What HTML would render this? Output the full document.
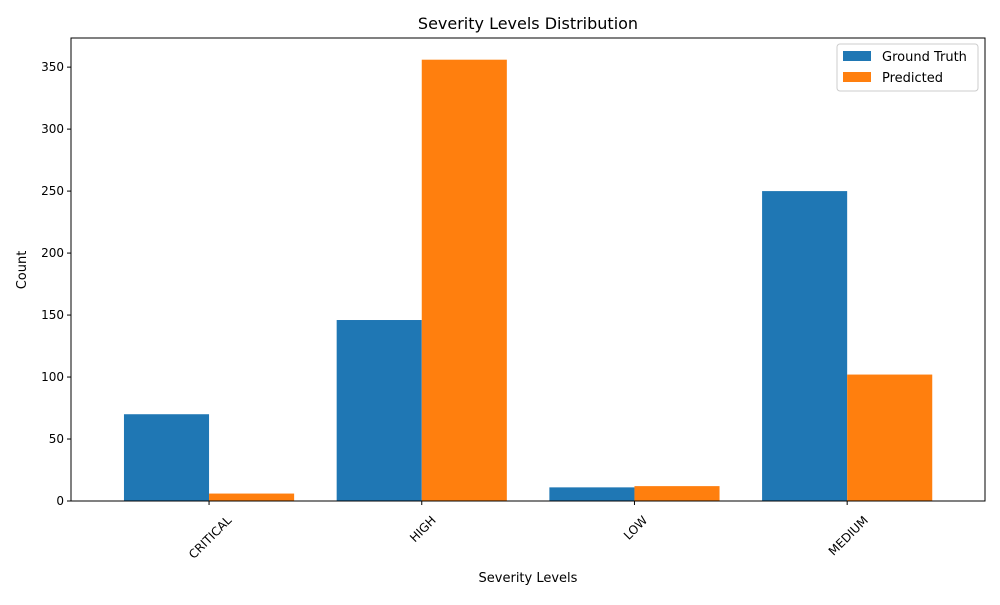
<!DOCTYPE html>
<html><head><meta charset="utf-8"><style>
body{margin:0;background:#fff;font-family:"Liberation Sans","DejaVu Sans",sans-serif;}
svg text{font-family:"DejaVu Sans","Liberation Sans",sans-serif;fill:#000;}
</style></head><body>
<svg id="chart" width="1000" height="600" xmlns="http://www.w3.org/2000/svg">
<text x="528" y="29" font-size="16" text-anchor="middle">Severity Levels Distribution</text>
<g id="plot"></g>
<text x="528" y="582" font-size="13" text-anchor="middle">Severity Levels</text>
<text x="0" y="0" font-size="13" text-anchor="middle" transform="translate(26,270) rotate(-90)">Count</text>
<g>
<rect x="837" y="44" width="141" height="47" fill="#fff" stroke="#ccc" rx="3"/>
<rect x="843" y="51" width="28" height="10" fill="#1f77b4"/>
<text x="882" y="61" font-size="13">Ground Truth</text>
<rect x="843" y="72" width="28" height="10" fill="#ff7f0e"/>
<text x="882" y="82" font-size="13">Predicted</text>
</g>
</svg>
<script>
const categories=["CRITICAL","HIGH","LOW","MEDIUM"];
const groundTruth=[70,146,11,250];
const predicted=[6,356,12,102];
const yTicks=[0,50,100,150,200,250,300,350];
const L=71,R=985,T=38,B=501;
const xMin=-0.649,xMax=3.648,yMax=373.5;
const x=v=>L+(v-xMin)/(xMax-xMin)*(R-L);
const y=v=>B-v/yMax*(B-T);
const ns="http://www.w3.org/2000/svg";
const g=document.getElementById('plot');
function mk(t,a){const e=document.createElementNS(ns,t);for(const k in a)e.setAttribute(k,a[k]);g.appendChild(e);return e;}
const bw=0.4;
categories.forEach((c,i)=>{
  const r1=mk('rect',{x:x(i-bw),y:y(groundTruth[i]),width:x(i)-x(i-bw),height:B-y(groundTruth[i]),fill:'#1f77b4'});
  
  
  const r2=mk('rect',{x:x(i),y:y(predicted[i]),width:x(i+bw)-x(i),height:B-y(predicted[i]),fill:'#ff7f0e'});
  
  
  const tk=mk('line',{x1:x(i),x2:x(i),y1:B,y2:B+4,stroke:'#000'});
  
  
  const t=mk('text',{x:0,y:0,'font-size':12,'text-anchor':'end'});
  t.textContent=c;
  
  
  const len=t.getComputedTextLength();
  t.setAttribute('transform',`translate(${x(i)+len*0.707/2+4},${B+20}) rotate(-45)`);
});
yTicks.forEach(v=>{
  const tk=mk('line',{x1:L-4,x2:L,y1:y(v),y2:y(v),stroke:'#000'});
  
  
  const t=mk('text',{x:L-7,y:y(v)+4,'font-size':12,'text-anchor':'end'});
  t.textContent=v;
  
  
});
const fr=mk('rect',{x:L,y:T,width:R-L,height:B-T,fill:'none',stroke:'#000','stroke-width':1});


</script>
</body></html>
